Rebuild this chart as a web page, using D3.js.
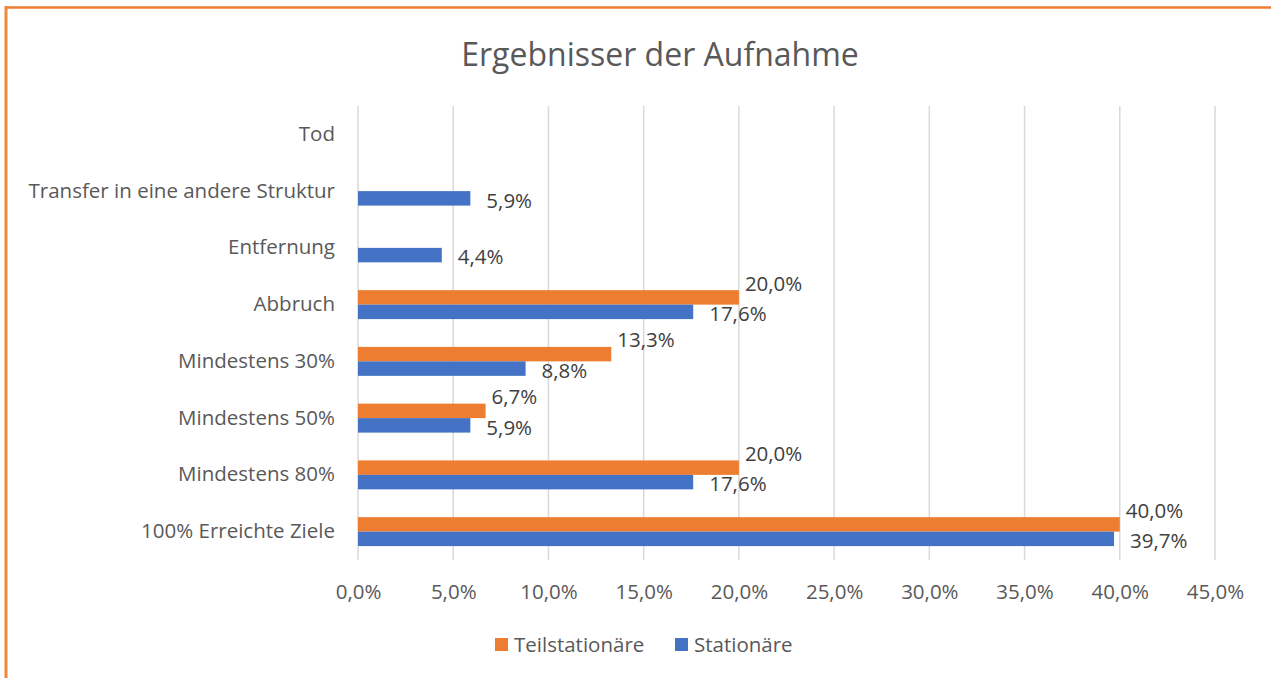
<!DOCTYPE html>
<html>
<head>
<meta charset="utf-8">
<script src="https://cdn.jsdelivr.net/npm/d3@7"></script>
<style>
  body { margin: 0; background: #fff; }
  svg { display: block; font-family: "Open Sans", sans-serif; }
</style>
</head>
<body>
<script>
// data, top row first
const categories = ["Tod", "Transfer in eine andere Struktur", "Entfernung", "Abbruch",
  "Mindestens 30%", "Mindestens 50%", "Mindestens 80%", "100% Erreichte Ziele"];
const series = ["Teilstationäre", "Stationäre"];
const teilstationaere = [null, null, null, 20.0, 13.3, 6.7, 20.0, 40.0];
const stationaere = [null, 5.9, 4.4, 17.6, 8.8, 5.9, 17.6, 39.7];
const ticks = [0, 5, 10, 15, 20, 25, 30, 35, 40, 45];

const colors = { "Teilstationäre": "#ED7D31", "Stationäre": "#4472C4" };
const fmt = v => v.toFixed(1).replace(".", ",") + "%";

const width = 1271, height = 678;
const margin = { top: 106, right: 56, bottom: 118, left: 358 };
const fs = 20.5;

const svg = d3.select("body").append("svg")
  .attr("width", width)
  .attr("height", height);

// frame (orange top and left edge)
svg.append("line").attr("x1", 5).attr("x2", width).attr("y1", 7.5).attr("y2", 7.5)
  .attr("stroke", "#ED7D31").attr("stroke-width", 2.5);
svg.append("line").attr("x1", 6).attr("x2", 6).attr("y1", 6).attr("y2", height)
  .attr("stroke", "#F08838").attr("stroke-width", 3);

svg.append("text")
  .attr("x", 660).attr("y", 66)
  .attr("text-anchor", "middle")
  .attr("font-size", 32)
  .attr("fill", "#595959")
  .text("Ergebnisser der Aufnahme");

const x = d3.scaleLinear()
  .domain([0, 45])
  .range([margin.left, width - margin.right]);

const y = d3.scaleBand()
  .domain(categories)
  .range([margin.top, height - margin.bottom])
  .paddingInner(0.49)
  .paddingOuter(0.245);

const ySub = d3.scaleBand()
  .domain(series)
  .range([0, y.bandwidth()]);

// gridlines
svg.append("g")
  .selectAll("line")
  .data(ticks)
  .join("line")
    .attr("x1", d => x(d)).attr("x2", d => x(d))
    .attr("y1", margin.top).attr("y2", height - margin.bottom)
    .attr("stroke", "#d9d9d9")
    .attr("stroke-width", 1.5);

// x axis labels
const xAxis = g => g
  .attr("transform", `translate(0,${height - margin.bottom})`)
  .call(d3.axisBottom(x).tickValues(ticks).tickFormat(fmt).tickSize(0).tickPadding(24))
  .call(g => g.select(".domain").remove())
  .call(g => g.selectAll("text").attr("fill", "#595959").attr("font-size", fs).attr("font-family", "Open Sans, sans-serif"));
svg.append("g").call(xAxis);

// category labels
const yAxis = g => g
  .attr("transform", `translate(${margin.left},0)`)
  .call(d3.axisLeft(y).tickSize(0).tickPadding(23))
  .call(g => g.select(".domain").remove())
  .call(g => g.selectAll("text").attr("fill", "#595959").attr("font-size", fs).attr("font-family", "Open Sans, sans-serif"));
svg.append("g").call(yAxis);

const rows = categories.map((c, i) => ({
  cat: c,
  vals: [
    { s: "Teilstationäre", v: teilstationaere[i] },
    { s: "Stationäre", v: stationaere[i] }
  ]
}));

const bars = svg.append("g")
  .selectAll("g")
  .data(rows)
  .join("g")
    .attr("transform", d => `translate(0,${y(d.cat)})`);

const cells = bars.selectAll("g")
  .data(d => d.vals.filter(e => e.v !== null))
  .join("g");

cells.append("rect")
  .attr("x", x(0))
  .attr("y", d => ySub(d.s))
  .attr("width", d => x(d.v) - x(0))
  .attr("height", ySub.bandwidth())
  .attr("fill", d => colors[d.s]);

// data labels: Teilstationäre lifted above, Stationäre beside the bar
cells.append("text")
  .attr("x", d => x(d.v) + (d.s === "Teilstationäre" ? 6 : 16))
  .attr("y", d => ySub(d.s) + ySub.bandwidth() / 2 + (d.s === "Teilstationäre" ? -14 : 2))
  .attr("dy", "0.35em")
  .attr("font-size", fs)
  .attr("fill", "#404040")
  .text(d => fmt(d.v));

// legend
const legend = svg.append("g")
  .attr("transform", `translate(495,645)`);
const legendX = [0, 180];
series.forEach((s, i) => {
  const g = legend.append("g").attr("transform", `translate(${legendX[i]},0)`);
  g.append("rect").attr("x", 0).attr("y", -7).attr("width", 13).attr("height", 13).attr("fill", colors[s]);
  g.append("text").attr("x", 19).attr("y", 0).attr("dy", "0.35em")
    .attr("font-size", fs).attr("fill", "#595959").text(s);
});
</script>
</body>
</html>
